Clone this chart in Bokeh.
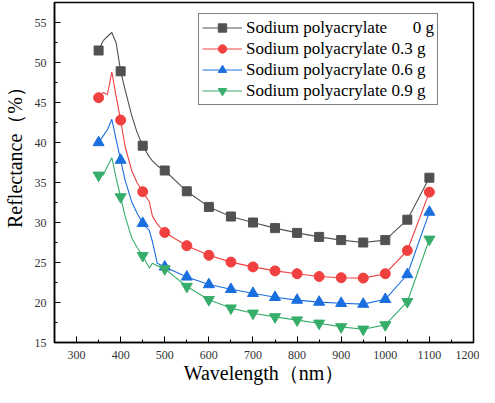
from bokeh.plotting import figure
from bokeh.models import Range1d, SingleIntervalTicker, Legend, LegendItem
from bokeh.embed import file_html
from bokeh.resources import INLINE

# Wavelength grid of the measured curves (nm)
wavelength = [350, 360, 370, 380, 390, 400, 410, 425, 437, 450, 465, 472, 483, 500,
              550, 600, 650, 700, 750, 800, 850, 900, 950, 1000, 1050, 1100]

# Reflectance (%) for each amount of sodium polyacrylate
refl_0g = [51.5, 52.7, 53.25, 53.75, 52.4, 48.9, 46.6, 43.4, 41.3, 39.6, 38.2, 37.7, 37.1, 36.5,
           33.9, 31.95, 30.75, 30.0, 29.3, 28.7, 28.2, 27.8, 27.5, 27.8, 30.35, 35.6]
refl_03g = [45.6, 46.25, 46.0, 48.8, 45.7, 42.8, 39.5, 36.5, 35.0, 33.85, 32.6, 30.8, 29.8, 28.75,
            27.1, 25.9, 25.05, 24.45, 23.95, 23.6, 23.25, 23.1, 23.05, 23.6, 26.5, 33.8]
refl_06g = [40.0, 40.8, 41.6, 42.9, 40.3, 37.8, 35.3, 32.6, 31.2, 29.9, 29.0, 27.6, 24.9, 24.45,
            23.2, 22.25, 21.65, 21.15, 20.65, 20.3, 20.05, 19.9, 19.8, 20.4, 23.5, 31.3]
refl_09g = [35.9, 35.9, 37.0, 38.1, 35.5, 33.2, 30.8, 28.1, 26.9, 25.85, 24.3, 24.9, 24.6, 24.2,
            22.0, 20.35, 19.3, 18.65, 18.2, 17.8, 17.4, 16.95, 16.65, 17.2, 20.1, 27.9]

series_labels = ["Sodium polyacrylate\u00a0\u00a0\u00a0\u00a0\u00a0\u00a00 g",
                 "Sodium polyacrylate 0.3 g",
                 "Sodium polyacrylate 0.6 g",
                 "Sodium polyacrylate 0.9 g"]
series_values = [refl_0g, refl_03g, refl_06g, refl_09g]
colors = ["#515151", "#F14040", "#1A6FDF", "#37AD6B"]
markers = ["square", "circle", "triangle", "inverted_triangle"]
marker_sizes = [9, 10, 11, 11]

FONT = "Liberation Serif"

p = figure(width=479, height=387, output_backend="svg", toolbar_location=None,
           x_range=Range1d(250, 1200), y_range=Range1d(15, 57.5),
           min_border_left=52, min_border_right=6, min_border_top=2, min_border_bottom=45)
p.background_fill_color = "white"
p.border_fill_color = "white"
p.xgrid.visible = False
p.ygrid.visible = False
p.outline_line_color = "black"
p.outline_line_width = 1.5
p.outline_line_alpha = 1

p.xaxis.ticker = SingleIntervalTicker(interval=100, num_minor_ticks=2)
p.yaxis.ticker = SingleIntervalTicker(interval=5, num_minor_ticks=2)
for ax in (p.xaxis, p.yaxis):
    ax.axis_line_width = 1.5
    ax.axis_line_color = "black"
    ax.major_tick_in = 6
    ax.major_tick_out = 0
    ax.minor_tick_in = 3
    ax.minor_tick_out = 0
    ax.major_tick_line_color = "black"
    ax.minor_tick_line_color = "black"
    ax.major_label_text_font = FONT
    ax.major_label_text_font_size = "12px"
    ax.major_label_text_color = "#333333"
    ax.axis_label_text_font = FONT
    ax.axis_label_text_font_size = "20px"
    ax.axis_label_text_font_style = "normal"
    ax.axis_label_text_color = "black"
p.xaxis.major_label_standoff = 8
p.yaxis.major_label_standoff = 8
p.xaxis.axis_label = "Wavelength（nm）"
p.yaxis.axis_label = "\u00a0" * 8 + "Reflectance（%）"
p.xaxis.axis_label_standoff = 0
p.yaxis.axis_label_standoff = 6

items = []
for lab, vals, col, mk, ms in zip(series_labels, series_values, colors, markers, marker_sizes):
    lr = p.line(wavelength, vals, line_color=col, line_width=1.1)
    mx = [w for w in wavelength if w % 50 == 0]
    my = [v for w, v in zip(wavelength, vals) if w % 50 == 0]
    sr = p.scatter(mx, my, marker=mk, size=ms, fill_color=col, line_color=col)
    items.append(LegendItem(label=lab, renderers=[lr, sr]))

legend = Legend(items=items, location=(144, 237))
legend.label_text_font = FONT
legend.label_text_font_size = "17px"
legend.label_text_color = "black"
legend.padding = 3
legend.spacing = 0
legend.margin = 0
legend.label_height = 21
legend.glyph_height = 21
legend.glyph_width = 40
legend.label_standoff = 4
legend.border_line_color = "black"
legend.border_line_width = 1.2
legend.background_fill_color = "white"
legend.background_fill_alpha = 1
p.add_layout(legend)

open("out.html", "w").write(file_html(p, INLINE))
